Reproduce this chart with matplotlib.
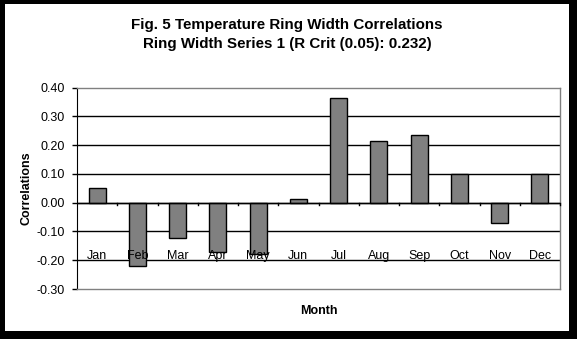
import matplotlib
matplotlib.use("Agg")
import matplotlib.pyplot as plt
from matplotlib.patches import Rectangle
import numpy as np

months = ["Jan", "Feb", "Mar", "Apr", "May", "Jun", "Jul", "Aug", "Sep", "Oct", "Nov", "Dec"]
correlations = [0.052, -0.220, -0.121, -0.170, -0.177, 0.014, 0.363, 0.214, 0.236, 0.100, -0.072, 0.100]
yticks = [0.40, 0.30, 0.20, 0.10, 0.00, -0.10, -0.20, -0.30]

plt.rcParams['font.family'] = ['Liberation Sans', 'DejaVu Sans']

W, H = 577, 339
fig = plt.figure(figsize=(W / 100, H / 100), dpi=100)
fig.patch.set_facecolor("black")
fig.patches.append(Rectangle((5 / W, 8 / H), (568.5 - 5) / W, (H - 4 - 8) / H,
                             transform=fig.transFigure, facecolor="white",
                             edgecolor="none", zorder=-10))

ax = fig.add_axes([77 / W, 1 - 289 / H, (560 - 77) / W, (289 - 87.7) / H])
ax.set_zorder(1)
ax.set_facecolor("white")
x = np.arange(len(months))
ax.bar(x, correlations, width=0.42, color="#808080", edgecolor="black", linewidth=1, zorder=3)

ax.set_xlim(-0.5, len(months) - 0.5)
ax.set_ylim(-0.30, 0.40)
ax.set_yticks(yticks)
ax.set_yticklabels([f"{v:.2f}" for v in yticks], fontsize=9)
for v in yticks[1:-1]:
    ax.axhline(v, color="black", linewidth=1, zorder=1)
ax.axhline(0, color="black", linewidth=1, zorder=4)

# category boundary ticks on the zero line
for b in np.arange(0.5, len(months) - 0.5 + 1e-9, 1.0):
    ax.plot([b, b], [0, -0.008], color="black", linewidth=1, zorder=4, clip_on=False)

ax.set_xticks([])
for i, m in enumerate(months):
    ax.text(i, -0.1966, m, ha="center", va="baseline", fontsize=9, zorder=5)

for s in ["top", "right", "bottom"]:
    ax.spines[s].set_color("#808080")
    ax.spines[s].set_linewidth(1)
ax.spines["left"].set_color("black")
ax.tick_params(axis="y", direction="out", length=3.5, width=1, pad=5)

fig.text(27 / W, 1 - 188 / H, "Correlations", rotation=90, ha="center", va="center",
         fontsize=9, fontweight="bold")
fig.text(319 / W, 1 - 313.7 / H, "Month", ha="center", va="baseline", fontsize=9,
         fontweight="bold")
fig.text(286.3 / W, 1 - 29.3 / H, "Fig. 5 Temperature Ring Width Correlations", ha="center",
         va="baseline", fontsize=10.9, fontweight="bold")
fig.text(287.5 / W, 1 - 48 / H, "Ring Width Series 1 (R Crit (0.05): 0.232)", ha="center",
         va="baseline", fontsize=10.9, fontweight="bold")

fig.savefig("out.png", dpi=100, facecolor=fig.get_facecolor())
